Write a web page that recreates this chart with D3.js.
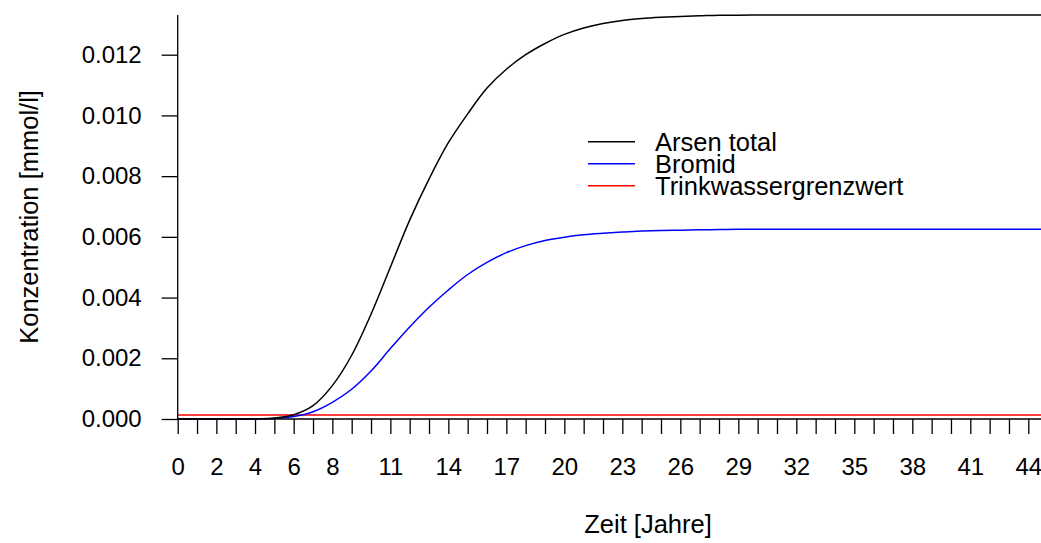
<!DOCTYPE html>
<html>
<head>
<meta charset="utf-8">
<script src="https://cdn.jsdelivr.net/npm/d3@7"></script>
<style>
  body { margin: 0; background: #fff; }
  svg { display: block; font-family: "Liberation Sans", Arial, sans-serif; }
</style>
</head>
<body>
<div id="chart"></div>
<script>
// years 0..45
const years = d3.range(0, 46);
const arsen = [0, 0, 0, 0, 0.000005, 0.00003, 0.00014, 0.00044, 0.0011, 0.0021,
  0.00345, 0.0050, 0.00655, 0.0079, 0.0091, 0.01005, 0.0109, 0.01152, 0.012, 0.01237,
  0.01267, 0.01288, 0.01303, 0.01313, 0.01319, 0.01323, 0.01326, 0.01328, 0.0133, 0.0133,
  0.01331, 0.01331, 0.01331, 0.01331, 0.01331, 0.01331, 0.01331, 0.01331, 0.01331, 0.01331,
  0.01331, 0.01331, 0.01331, 0.01331, 0.01331, 0.01331];
const bromid = [0, 0, 0, 0, 0.000003, 0.00002, 0.00008, 0.00024, 0.00055, 0.00098,
  0.00158, 0.00232, 0.00303, 0.00368, 0.00425, 0.00476, 0.00516, 0.00548, 0.00571, 0.00588,
  0.00599, 0.00607, 0.00612, 0.00616, 0.00619, 0.00621, 0.00622, 0.00623, 0.00624, 0.00625,
  0.00625, 0.00625, 0.00625, 0.00625, 0.00625, 0.00625, 0.00625, 0.00625, 0.00625, 0.00625,
  0.00625, 0.00625, 0.00625, 0.00625, 0.00625, 0.00625];
const grenzwert = 0.0001335;
const yTicks = [0, 0.002, 0.004, 0.006, 0.008, 0.010, 0.012];
const xTicks = d3.range(0, 45);
const xLabels = [0, 2, 4, 6, 8, 11, 14, 17, 20, 23, 26, 29, 32, 35, 38, 41, 44];
const legendNames = ["Arsen total", "Bromid", "Trinkwassergrenzwert"];
const legendColors = ["black", "blue", "red"];

const width = 1041, height = 543;
const fs = 24;    // tick labels
const fsT = 25.5; // titles, legend

const svg = d3.select("#chart").append("svg")
  .attr("width", width)
  .attr("height", height);

// plot area is cut at the right edge of the picture
const x = d3.scaleLinear().domain([0, 44]).range([177.7, 1028.3]);
const y = d3.scaleLinear().domain([0, 0.012]).range([419, 54.7]);

svg.append("defs").append("clipPath").attr("id", "clip")
  .append("rect").attr("x", 0).attr("y", 0).attr("width", width).attr("height", height);

const line = d3.line()
  .x((d, i) => x(years[i]))
  .y(d => y(d))
  .curve(d3.curveCatmullRom.alpha(0.5));

const plot = svg.append("g").attr("clip-path", "url(#clip)");

plot.append("line")
  .attr("x1", x(0)).attr("x2", x(45))
  .attr("y1", y(grenzwert)).attr("y2", y(grenzwert))
  .attr("stroke", "red").attr("stroke-width", 1.5);

plot.append("path").datum(bromid)
  .attr("d", line).attr("fill", "none")
  .attr("stroke", "blue").attr("stroke-width", 1.5);

plot.append("path").datum(arsen)
  .attr("d", line).attr("fill", "none")
  .attr("stroke", "black").attr("stroke-width", 1.5);

// x axis at y = 0
const xAxis = svg.append("g")
  .attr("transform", `translate(0,${y(0)})`)
  .call(d3.axisBottom(x).tickValues(xTicks).tickSizeInner(15).tickSizeOuter(0).tickPadding(24)
    .tickFormat(d => xLabels.includes(d) ? d : ""));
xAxis.select(".domain").attr("d", `M${x(0)},0H${x(45)}`).attr("stroke-width", 1.3);
xAxis.selectAll(".tick line").attr("stroke-width", 1.3);
xAxis.selectAll("text").attr("font-size", fs).attr("fill", "black")
  .attr("font-family", "Liberation Sans, Arial, sans-serif");

const yAxis = svg.append("g")
  .attr("transform", `translate(${x(0)},0)`)
  .call(d3.axisLeft(y).tickValues(yTicks).tickSizeInner(16).tickSizeOuter(0).tickPadding(20)
    .tickFormat(d3.format(".3f")));
yAxis.select(".domain").attr("d", `M0,${y(0)}V${y(d3.max(arsen))}`).attr("stroke-width", 1.3);
yAxis.selectAll(".tick line").attr("stroke-width", 1.3);
yAxis.selectAll("text").attr("font-size", fs).attr("fill", "black")
  .attr("font-family", "Liberation Sans, Arial, sans-serif");

// axis titles
svg.append("text")
  .attr("x", 648).attr("y", 533)
  .attr("text-anchor", "middle")
  .attr("font-size", fsT)
  .text("Zeit [Jahre]");

svg.append("text")
  .attr("transform", `translate(38,${(y(0) + y(d3.max(arsen))) / 2}) rotate(-90)`)
  .attr("text-anchor", "middle")
  .attr("font-size", fsT)
  .text("Konzentration [mmol/l]");

// legend
const legend = svg.append("g").attr("transform", "translate(588,141.7)");
legendNames.forEach((name, i) => {
  const g = legend.append("g").attr("transform", `translate(0,${i * 22})`);
  g.append("line").attr("x1", 0).attr("x2", 47)
    .attr("stroke", legendColors[i]).attr("stroke-width", 1.5);
  g.append("text").attr("x", 67).attr("y", fsT * 0.36)
    .attr("font-size", fsT).text(name);
});
</script>
</body>
</html>
